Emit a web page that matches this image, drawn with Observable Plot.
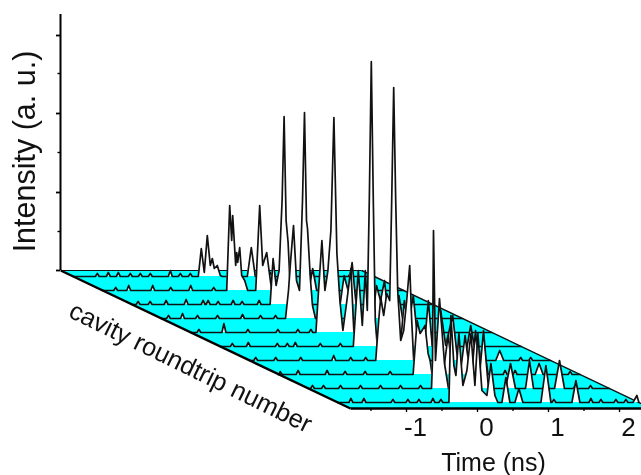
<!DOCTYPE html>
<html>
<head>
<meta charset="utf-8">
<style>html,body{margin:0;padding:0;background:#fff;overflow:hidden}#chart{filter:blur(0.75px);width:641px;height:475px}</style>
<script src="https://cdn.jsdelivr.net/npm/d3@7"></script>
<script src="https://cdn.jsdelivr.net/npm/@observablehq/plot@0.6"></script>
</head>
<body>
<div id="chart"></div>
<script>
// Time is held as oscilloscope samples (71 samples per ns), intensity in arbitrary units.
const samplesPerNs = 71;
const firstSample = -127, lastSample = 174;

// Main peaks of each round trip, back (0) to front (9)
const n0 = [-2,1,4,7,10,12,14,17,20,22,47,51,55];
const i0 = [0,28,4,41,11,18,8,11,1,0,0,29,0];
const n1 = [-3,0,2,3,6,7,8,10,12,15,18,26,30,33,37,40,42,79,83,87];
const i1 = [0,85,50,75,25,38,28,43,15,10,0,0,85,25,38,15,0,0,22,0];
const n2 = [11,14,17,20,23,25,27,29,31,33,59,64,69,81,85,89,93,97];
const i2 = [0,46,19,34,104,188,84,62,19,0,0,22,0,0,29,14,42,0];
const n3 = [-3,0,2,5,8,11,14,16,18,19,22,24,27,84,88,92,96,100];
const i3 = [0,28,56,93,38,28,118,206,98,90,38,13,0,0,33,18,38,0];
const n4 = [-2,0,2,4,7,10,13,16,19,22,25,29,33,36,68,73,77,81,87];
const i4 = [0,32,62,92,42,62,102,215,79,32,2,32,64,0,0,27,14,37,0];
const n5 = [6,9,11,15,18,20,22,24,26,28,30,53,57,61,66,71,77,81,85];
const i5 = [0,46,76,21,76,36,146,285,146,26,0,0,46,21,51,0,0,46,0];
const n6 = [-1,2,4,7,10,13,15,17,19,21,24,27,30,33,35,37,60,64,69,76,81,88,94,100,119,123,127];
const i6 = [0,40,63,45,67,60,160,273,160,70,20,30,60,95,40,0,0,50,15,45,0,0,35,0,0,10,0];
const n7 = [7,11,14,19,22,24,26,37,42,47,54,59,64,72,77,82,129,133,137];
const i7 = [0,54,41,49,21,14,0,0,39,0,0,39,0,0,34,0,0,11,0];
const n8 = [-4,-3,-2,0,4,9,13,35,40,44,48,53,70,75,80,90,94,98,119,124,129];
const i8 = [0,28,158,28,90,25,0,0,58,13,58,0,0,25,0,0,28,0,0,28,0];
const n9 = [-16,-14,-11,-9,-6,-2,2,6,10,13,17,22,26,30,33,37,41,45,50,54,58,76,81,86,107,111,115,168,172];
const i9 = [0,87,37,27,69,17,32,69,17,69,12,7,39,7,0,0,25,0,0,14,0,0,37,0,0,22,0,0,7];

// Small background bumps of each round trip
const bumpN0 = [-103,-92,-82,-70,-60,-50,-30,-20,-10,70,90,110,130,150];
const bumpH0 = [3,4,4,3,3,3,6,3,3,4,3,4,3,3];
const bumpN1 = [-114,-101,-77,-59,-39,-16];
const bumpH1 = [3,5,5,3,5,3];
const bumpN2 = [-121,-109,-93,-73,-56,-51,-41,-26,-17,0];
const bumpH2 = [3,3,4,5,4,4,3,4,3,4];
const bumpN3 = [-120,-106,-91,-71,-46,-28,-13];
const bumpH3 = [3,5,3,3,4,3,3];
const bumpN4 = [-119,-94,-70,-40,-20,-7];
const bumpH4 = [3,9,3,3,3,3];
const bumpN5 = [-115,-99,-70,-60,-52,-27,-7];
const bumpH5 = [3,4,3,3,4,3,3];
const bumpN6 = [-121,-101,-76,-43,-26,-11,144,154];
const bumpH6 = [3,3,3,5,3,3,3,3];
const bumpN7 = [-126,-108,-79,-61,-41,-16,99,109,164];
const bumpH7 = [3,4,4,3,3,3,4,4,3];
const bumpN8 = [-123,-112,-95,-75,-55,-35,-15,140,155];
const bumpH8 = [3,3,3,3,3,3,3,4,3];
const bumpN9 = [-114,-101,-72,-57,-46,-32,-24,89,126,136,151,161];
const bumpH9 = [4,4,3,3,3,4,3,3,4,3,3,3];

const peakN = [n0,n1,n2,n3,n4,n5,n6,n7,n8,n9];
const peakI = [i0,i1,i2,i3,i4,i5,i6,i7,i8,i9];
const bumpN = [bumpN0,bumpN1,bumpN2,bumpN3,bumpN4,bumpN5,bumpN6,bumpN7,bumpN8,bumpN9];
const bumpH = [bumpH0,bumpH1,bumpH2,bumpH3,bumpH4,bumpH5,bumpH6,bumpH7,bumpH8,bumpH9];

const timeMajor = [-71,0,71,142];
const timeMinor = [-106.5,-35.5,35.5,106.5];
const intensityMajor = [0,78,157,235];
const intensityMinor = [39,118,197];

// Waterfall projection: each round trip moves along the time and the intensity axes.
const backLevel = -6, levelStep = -14;
const backSkew = 277.2, skewStep = -29.4;
const levelOf = k => backLevel + levelStep * k;
const skewOf = k => backSkew + skewStep * k;
const skewPerLevel = 2.1;
const floorFront = -138, floorBack = 0;
const backSkewAt = 138 * skewPerLevel;

const traces = peakN.map((ns, k) => {
  const pts = [{n: firstSample, i: 0}, {n: lastSample, i: 0}];
  ns.forEach((n, j) => pts.push({n, i: peakI[k][j]}));
  bumpN[k].forEach((n, j) => {
    pts.push({n: n - 2, i: 0}, {n, i: bumpH[k][j]}, {n: n + 2, i: 0});
  });
  pts.sort((a, b) => a.n - b.n);
  return pts.map(p => ({x: p.n - skewOf(k), base: levelOf(k), top: levelOf(k) + p.i}));
});

const floor = [
  {x1: firstSample - backSkewAt, y1: floorBack, x2: lastSample - backSkewAt, y2: floorBack},
  {x1: firstSample, y1: floorFront, x2: lastSample, y2: floorFront}
];

const traceMarks = traces.flatMap(t => [
  Plot.areaY(t, {x: "x", y1: "base", y2: "top", fill: "#fff", curve: "linear"}),
  Plot.line(t, {x: "x", y: "top", stroke: "#111", strokeWidth: 1.7, curve: "linear"})
]);

const xLeft = -417;
const chart = Plot.plot({
  width: 641, height: 475,
  marginLeft: 60, marginRight: 0, marginTop: 0, marginBottom: 67,
  x: {domain: [xLeft, 164]},
  y: {domain: [floorFront, 270]},
  style: {fontFamily: "'Liberation Sans', Arial, sans-serif", color: "#000", background: "#fff", overflow: "hidden"},
  marks: [
    Plot.area(floor, {x1: "x1", y1: "y1", x2: "x2", y2: "y2", fill: "#00ffff"}),
    Plot.link(floor.slice(0, 1), {x1: "x1", y1: "y1", x2: "x2", y2: "y2", stroke: "#111", strokeWidth: 1.2}),
    Plot.link([0], {x1: floor[0].x2, y1: floor[0].y2, x2: floor[1].x2, y2: floor[1].y2, stroke: "#111", strokeWidth: 1.4}),
    ...traceMarks,
    Plot.link([0], {x1: floor[0].x1, y1: floor[0].y1, x2: floor[1].x1, y2: floor[1].y1, stroke: "#000", strokeWidth: 2.4}),
    Plot.link([0], {x1: floor[1].x1, y1: floorFront, x2: floor[1].x2, y2: floorFront, stroke: "#000", strokeWidth: 2.4}),
    Plot.ruleX([xLeft], {y1: 0, y2: 256, stroke: "#000", strokeWidth: 2}),
    Plot.axisY(intensityMajor, {anchor: "left", tickSize: 4, strokeWidth: 1.8, tickFormat: () => "", label: null}),
    Plot.axisY(intensityMinor, {anchor: "left", tickSize: 2.5, strokeWidth: 1.4, tickFormat: () => "", label: null}),
    Plot.axisX(timeMajor, {anchor: "bottom", tickSize: 4, strokeWidth: 1.3, tickFormat: () => "", label: null}),
    Plot.axisX(timeMinor, {anchor: "bottom", tickSize: 3, strokeWidth: 1.3, tickFormat: () => "", label: null}),
    Plot.axisX(timeMajor, {anchor: "bottom", tickSize: 0, tickPadding: 9, dx: 9, fontSize: 26, fill: "#111", tickFormat: d => String(d / samplesPerNs), label: null}),
    Plot.text(["Intensity (a. u.)"], {x: -452, y: 119, rotate: -90, fontSize: 30.5, fill: "#111"}),
    Plot.text(["cavity roundtrip number"], {x: -287, y: -97, rotate: 26, fontSize: 25.5, fill: "#111"}),
    Plot.text(["Time (ns)"], {x: 16, y: -192, fontSize: 25, fill: "#111"})
  ]
});
document.getElementById("chart").append(chart);
</script>
</body>
</html>
